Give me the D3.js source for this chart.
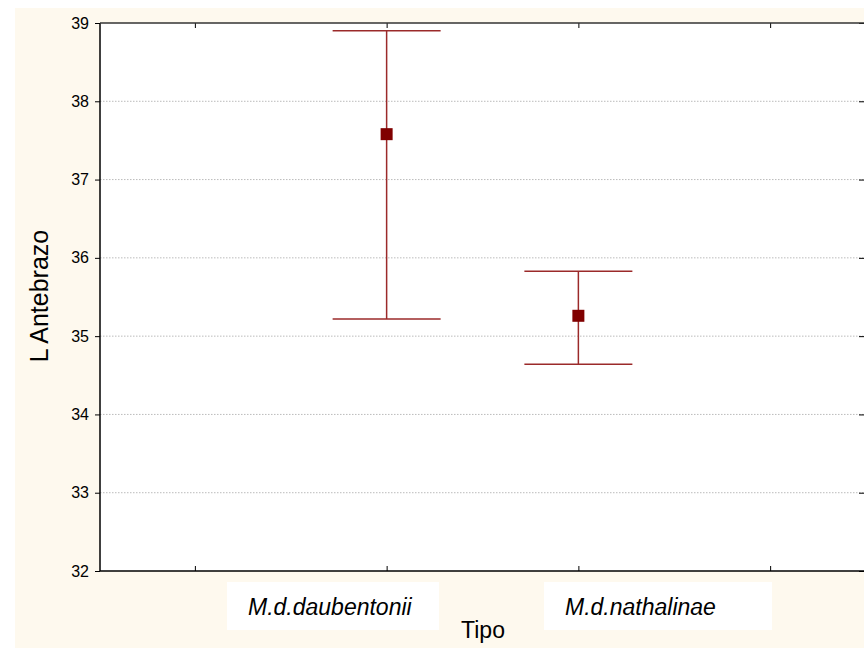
<!DOCTYPE html>
<html>
<head>
<meta charset="utf-8">
<script src="https://cdn.jsdelivr.net/npm/d3@7"></script>
<style>
  body { margin: 0; background: #fff; }
  svg { display: block; font-family: Arial, "Liberation Sans", sans-serif; }
</style>
</head>
<body>
<svg width="864" height="648"></svg>
<script>
// data
var categories = ["M.d.daubentonii", "M.d.nathalinae"];
var catPos = [2, 3];
var means = [37.58, 35.26];
var upper = [38.90, 35.83];
var lower = [35.22, 34.64];
var yTicks = [32, 33, 34, 35, 36, 37, 38, 39];
var xTicks = [1, 2, 3, 4];

var svg = d3.select("svg"),
	pLeft = 100, pTop = 23, pRight = 866, pBottom = 571;

var x = d3.scaleLinear().domain([0.5, 4.5]).range([99, pRight]);
var y = d3.scaleLinear().domain([32, 39]).range([pBottom, pTop]);

// cream background
svg.append("rect")
	.attr("x", 15).attr("y", 8)
	.attr("width", 864 - 15).attr("height", 648 - 8)
	.attr("fill", "#fef9ee");

// plot area
svg.append("rect")
	.attr("x", pLeft).attr("y", pTop)
	.attr("width", pRight - pLeft).attr("height", pBottom - pTop)
	.attr("fill", "#fff");

// grid
svg.append("g")
	.selectAll("line")
	.data(yTicks.slice(1, -1))
	.enter()
	.append("line")
	.attr("x1", pLeft).attr("x2", pRight)
	.attr("y1", d => y(d)).attr("y2", d => y(d))
	.attr("stroke", "#bbb")
	.attr("stroke-width", 1)
	.attr("stroke-dasharray", "1.5,1.5");

// axes
svg.append("g")
	.attr("transform", "translate(" + pLeft + ",0)")
	.call(d3.axisLeft(y).tickValues(yTicks).tickFormat(d3.format("d")).tickSize(5).tickPadding(6))
	.call(g => g.select(".domain").remove())
	.call(g => g.selectAll("text").attr("font-size", 16).attr("fill", "#000"));

svg.append("g")
	.attr("transform", "translate(864,0)")
	.call(d3.axisLeft(y).tickValues(yTicks).tickSize(5).tickFormat(""))
	.call(g => g.select(".domain").remove());

svg.append("g")
	.attr("transform", "translate(0," + pBottom + ")")
	.call(d3.axisTop(x).tickValues(xTicks).tickSize(5).tickFormat(""))
	.call(g => g.select(".domain").remove());

svg.append("g")
	.attr("transform", "translate(0," + pTop + ")")
	.call(d3.axisBottom(x).tickValues(xTicks).tickSize(5).tickFormat(""))
	.call(g => g.select(".domain").remove());

// frame
svg.append("line").attr("x1", pLeft).attr("x2", pLeft).attr("y1", pTop).attr("y2", pBottom)
	.attr("stroke", "#000").attr("stroke-width", 1.5);
svg.append("line").attr("x1", pLeft).attr("x2", pRight).attr("y1", pBottom).attr("y2", pBottom)
	.attr("stroke", "#000").attr("stroke-width", 1.5);
svg.append("line").attr("x1", pLeft).attr("x2", pRight).attr("y1", pTop).attr("y2", pTop)
	.attr("stroke", "#333").attr("stroke-width", 1.5);

// error bars
var capW = 54;
var bars = svg.append("g")
	.selectAll("g")
	.data(categories.map((c, i) => ({c: c, p: catPos[i], m: means[i], hi: upper[i], lo: lower[i]})))
	.enter()
	.append("g")
	.attr("stroke", "#9b2a2a")
	.attr("stroke-width", 1.5);

bars.append("line")
	.attr("x1", d => x(d.p)).attr("x2", d => x(d.p))
	.attr("y1", d => y(d.hi)).attr("y2", d => y(d.lo));
bars.append("line")
	.attr("x1", d => x(d.p) - capW).attr("x2", d => x(d.p) + capW)
	.attr("y1", d => y(d.hi)).attr("y2", d => y(d.hi));
bars.append("line")
	.attr("x1", d => x(d.p) - capW).attr("x2", d => x(d.p) + capW)
	.attr("y1", d => y(d.lo)).attr("y2", d => y(d.lo));
bars.append("rect")
	.attr("x", d => x(d.p) - 6).attr("y", d => y(d.m) - 6)
	.attr("width", 12).attr("height", 12)
	.attr("fill", "#800000").attr("stroke", "none");

// category label boxes
var boxes = [[227, 439], [544, 772]];
var lab = svg.append("g")
	.selectAll("g")
	.data(categories)
	.enter()
	.append("g");
lab.append("rect")
	.attr("x", (d, i) => boxes[i][0]).attr("y", 582)
	.attr("width", (d, i) => boxes[i][1] - boxes[i][0]).attr("height", 48)
	.attr("fill", "#fff");
lab.append("text")
	.attr("x", (d, i) => boxes[i][0] + 21)
	.attr("y", 615)
	.attr("font-size", 23)
	.attr("font-style", "italic")
	.text(d => d);

// axis titles
svg.append("text")
	.attr("x", 483).attr("y", 638)
	.attr("text-anchor", "middle")
	.attr("font-size", 23)
	.text("Tipo");
svg.append("text")
	.attr("transform", "translate(48,296) rotate(-90)")
	.attr("text-anchor", "middle")
	.attr("font-size", 25)
	.text("L Antebrazo");
</script>
</body>
</html>
